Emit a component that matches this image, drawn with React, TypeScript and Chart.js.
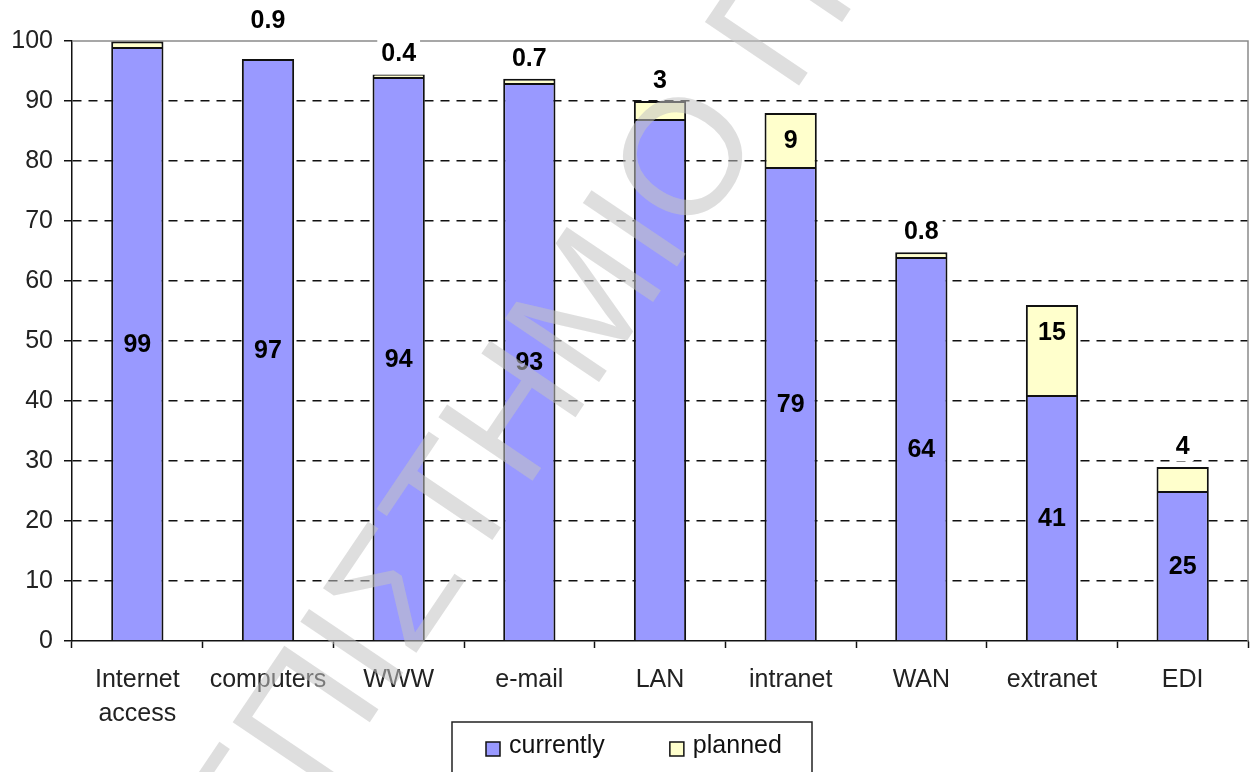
import { useEffect, useRef } from 'react';
import { Chart, registerables } from 'chart.js';

Chart.register(...registerables);

// Share of firms using each technology (%)
const categories: (string | string[])[] = [
  ['Internet', 'access'],
  'computers',
  'WWW',
  'e-mail',
  'LAN',
  'intranet',
  'WAN',
  'extranet',
  'EDI',
];
const seriesNames = ['currently', 'planned'];
const currently = [99, 97, 94, 93, 87, 79, 64, 41, 25];
const planned: (number | null)[] = [0.9, null, 0.4, 0.7, 3, 9, 0.8, 15, 4];

// Categories whose "currently" value is left without a label
const unlabelledCurrently = new Set(['LAN']);

const FONT = '"Liberation Sans", Arial, Helvetica, sans-serif';
const BLUE = '#9999FF';
const CREAM = '#FFFFCC';
const INK = '#111111';

const catName = (c: string | string[]) => (Array.isArray(c) ? c.join(' ') : c);

// Light gray frame on the top and right edges of the plot area
const plotFrame = {
  id: 'plotFrame',
  beforeDatasetsDraw(chart: any) {
    const { ctx, chartArea: a } = chart;
    ctx.save();
    ctx.strokeStyle = '#8a8a8a';
    ctx.lineWidth = 1.5;
    ctx.beginPath();
    ctx.moveTo(a.left, a.top);
    ctx.lineTo(a.right, a.top);
    ctx.lineTo(a.right, a.bottom);
    ctx.stroke();
    ctx.restore();
  },
};

// Bold value labels: "currently" centred in its segment, "planned" above small
// segments (on a white box) or near the top of larger ones
const valueLabels = {
  id: 'valueLabels',
  afterDatasetsDraw(chart: any, _args: any, opts: any) {
    const { ctx } = chart;
    const xs = chart.scales.x;
    const step = xs.getPixelForValue(1) - xs.getPixelForValue(0);
    const cur = chart.getDatasetMeta(0);
    const pl = chart.getDatasetMeta(1);
    ctx.save();
    ctx.font = `bold 25px ${FONT}`;
    ctx.textAlign = 'center';
    ctx.textBaseline = 'middle';
    currently.forEach((v, i) => {
      if (unlabelledCurrently.has(catName(categories[i]))) return;
      const bar = cur.data[i];
      ctx.fillStyle = '#000';
      ctx.fillText(String(v), bar.x, (bar.y + bar.base) / 2 + 1);
    });
    planned.forEach((v, i) => {
      if (v == null) return;
      const bar = pl.data[i];
      const shift = (opts.shift && opts.shift[i]) || 0;
      const x = bar.x + shift * step;
      const text = String(v);
      if (v >= 5) {
        ctx.fillStyle = '#000';
        ctx.fillText(text, x, bar.y + 28);
      } else {
        const y = bar.y - 21;
        const w = ctx.measureText(text).width + 8;
        ctx.fillStyle = '#ffffff';
        ctx.fillRect(x - w / 2, y - 15, w, 30);
        ctx.fillStyle = '#000';
        ctx.fillText(text, x, y + 1);
      }
    });
    ctx.restore();
  },
};

// Legend in a framed box under the axis
const boxedLegend = {
  id: 'boxedLegend',
  afterDraw(chart: any, _args: any, opts: any) {
    const { ctx } = chart;
    const { left, top, width, height } = opts.box;
    ctx.save();
    ctx.strokeStyle = '#222';
    ctx.lineWidth = 1.5;
    ctx.strokeRect(left, top, width, height);
    ctx.font = `25px ${FONT}`;
    ctx.textBaseline = 'alphabetic';
    ctx.textAlign = 'left';
    let x = left + 34;
    chart.data.datasets.forEach((ds: any) => {
      ctx.fillStyle = ds.backgroundColor;
      ctx.fillRect(x, top + 20, 14, 14);
      ctx.strokeStyle = INK;
      ctx.strokeRect(x, top + 20, 14, 14);
      ctx.fillStyle = INK;
      ctx.fillText(ds.label, x + 23, top + 31);
      x += 23 + ctx.measureText(ds.label).width + 65;
    });
    ctx.restore();
  },
};

// Diagonal library watermark laid over the whole figure
const watermark = {
  id: 'watermark',
  afterDraw(chart: any, _args: any, opts: any) {
    const { ctx } = chart;
    const text: string = opts.text;
    const anchorIndex = text.indexOf(opts.anchorChar);
    ctx.save();
    ctx.font = `165px ${FONT}`;
    ctx.fillStyle = 'rgba(194,194,194,0.55)';
    ctx.textBaseline = 'alphabetic';
    ctx.textAlign = 'left';
    ctx.translate(opts.x, opts.y);
    ctx.rotate((opts.angle * Math.PI) / 180);
    const before = ctx.measureText(text.slice(0, anchorIndex)).width;
    const ow = ctx.measureText(opts.anchorChar).width;
    ctx.fillText(text, -(before + ow / 2), 0.716 * 165 / 2);
    ctx.restore();
  },
};

export default function App() {
  const ref = useRef<HTMLCanvasElement>(null);

  useEffect(() => {
    document.body.style.margin = '0';
    const canvas = ref.current!;
    const chart = new Chart(canvas, {
      type: 'bar',
      data: {
        labels: categories as any,
        datasets: [
          {
            label: seriesNames[0],
            data: currently,
            backgroundColor: BLUE,
            borderColor: INK,
            borderWidth: 2,
            barPercentage: 0.4,
            categoryPercentage: 1,
          },
          {
            label: seriesNames[1],
            data: planned as any,
            backgroundColor: CREAM,
            borderColor: INK,
            borderWidth: 2,
            barPercentage: 0.4,
            categoryPercentage: 1,
          },
        ],
      },
      options: {
        responsive: false,
        animation: false,
        devicePixelRatio: 1,
        layout: { padding: { top: 41, right: 7, left: 0, bottom: 0 } },
        plugins: {
          legend: { display: false },
          tooltip: { enabled: false },
          valueLabels: { shift: { 0: 1 } },
          boxedLegend: { box: { left: 452, top: 722, width: 360, height: 80 } },
          watermark: {
            text: 'ΠΑΝΕΠΙΣΤΗΜΙΟ ΠΕΙΡΑΙΩΣ',
            anchorChar: 'Ο',
            x: 681,
            y: 155,
            angle: -56,
          },
        } as any,
        scales: {
          x: {
            stacked: true,
            offset: true,
            grid: {
              offset: true,
              drawOnChartArea: false,
              drawTicks: true,
              tickLength: 7,
              tickColor: INK,
              tickWidth: 1.5,
            },
            border: { color: INK, width: 1.5 },
            ticks: {
              color: '#222',
              font: { family: FONT, size: 25, lineHeight: 1.36 },
              padding: 15,
              maxRotation: 0,
              autoSkip: false,
            },
            afterFit: (s: any) => {
              s.height = 131;
            },
          },
          y: {
            stacked: true,
            min: 0,
            max: 100,
            ticks: {
              stepSize: 10,
              color: '#222',
              font: { family: FONT, size: 25 },
              padding: 11,
            },
            grid: {
              color: (c: any) =>
                c.tick && (c.tick.value === 0 || c.tick.value === 100) ? 'rgba(0,0,0,0)' : INK,
              lineWidth: 1.5,
              tickLength: 8,
              tickColor: INK,
              tickWidth: 1.5,
            },
            border: { color: INK, width: 1.5, dash: [9, 7] },
            afterFit: (s: any) => {
              s.width = 72;
            },
          },
        },
      },
      plugins: [plotFrame, valueLabels, boxedLegend, watermark],
    });
    return () => chart.destroy();
  }, []);

  return (
    <div style={{ width: 1255, height: 772, overflow: 'hidden', background: '#fff' }}>
      <canvas ref={ref} width={1255} height={772} style={{ display: 'block' }} />
    </div>
  );
}
